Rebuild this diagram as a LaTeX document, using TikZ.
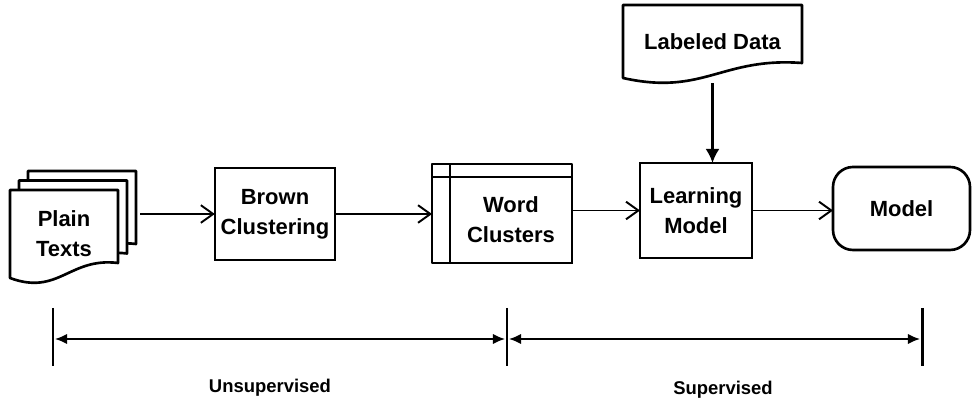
\documentclass[tikz,border=0pt]{standalone}
\usepackage{fontspec}
\setmainfont{Liberation Sans}
\usetikzlibrary{arrows.meta,positioning,calc,backgrounds}

% outline of a document page with a wavy lower edge
\newcommand{\docshape}[1]{%
  \draw[line, fill=white] (#1.south west) -- (#1.north west) -- (#1.north east)
    -- ($(#1.south east)+(0,0.3)$)
    .. controls ($(#1.south west)!0.55!(#1.south east)+(0,0.42)$)
    and ($(#1.south west)!0.45!(#1.south east)+(0,-0.36)$) .. cycle;}

\begin{document}
\begin{tikzpicture}[
    line/.style={line width=1.5pt, line join=round},
    box/.style={draw, line width=1.5pt, outer sep=0pt, minimum width=2.28cm, minimum height=1.84cm, align=center, font=\fontsize{12.5}{17}\selectfont\bfseries},
    page/.style={minimum width=2.16cm, minimum height=1.76cm, inner sep=0pt, outer sep=0pt, align=center, font=\fontsize{12.5}{17}\selectfont\bfseries},
    arr/.style={-{Straight Barb[length=7pt,width=10pt]}, line width=1.1pt},
    span/.style={{Latex[length=7pt,width=6pt]}-{Latex[length=7pt,width=6pt]}, line width=1.6pt, shorten <=1pt, shorten >=1pt},
    tag/.style={font=\fontsize{10.5}{13}\selectfont\bfseries}
]
\useasboundingbox (0,0) rectangle (19.48,-8.12);

% stack of plain texts
\node[page] (plainc) at (1.64,-4.30) {};
\node[page] (plainb) at (1.46,-4.49) {};
\node[page] (plain) at (1.28,-4.68) {Plain\\Texts};
\begin{scope}[on background layer]
\docshape{plainc}
\docshape{plainb}
\docshape{plain}
\end{scope}

\node[box] (brown) at (5.5,-4.28) {Brown\\Clustering};

% word clusters (inner area is the node)
\node[box, minimum width=2.44cm, minimum height=1.72cm] (words) at (10.22,-4.4) {Word\\Clusters};
\draw[line] ($(words.south west)+(-0.36,0)$) rectangle ($(words.north east)+(0,0.26)$);
\draw[line] ($(words.north west)+(-0.36,0)$) -- (words.north west) -- ++(0,0.26);

\node[box, minimum width=2.24cm, minimum height=1.9cm] (learning) at (13.92,-4.21) {Learning\\Model};

\node[page, minimum width=3.58cm, minimum height=1.46cm] (labeled) at (14.25,-0.83) {Labeled Data};
\begin{scope}[on background layer]
\docshape{labeled}
\end{scope}

\node[box, rounded corners=0.4cm, minimum width=2.74cm, minimum height=1.66cm] (model) at (18.03,-4.17) {Model};

\coordinate (plainout) at (2.8,-4.28);
\coordinate (wordsin) at (8.64,-4.28);

\draw[arr] (plainout) -- (brown);
\draw[arr] (brown) -- (wordsin);
\draw[arr] (words.east |- learning) -- (learning);
\draw[arr] (learning.east) -- (learning.east -| model.west);
\draw[arr, line width=1.4pt, -{Latex[length=8pt,width=8pt]}, shorten <=3pt] (labeled.south) -- (labeled.south |- learning.north);

% learning phases
\coordinate (ua) at (1.06,-6.78);
\coordinate (ub) at (10.14,-6.78);
\coordinate (uc) at (18.44,-6.78);
\foreach \c in {ua,ub,uc}
  \draw[line, line width=1.7pt] ($(\c)+(0,0.62)$) -- ($(\c)+(0,-0.54)$);
\draw[span] (ua) -- (ub);
\draw[span] (ub) -- (uc);

\node[tag] (unsup) at (5.4,-7.76) {Unsupervised};
\node[tag] (sup) at (14.46,-7.8) {Supervised};
\end{tikzpicture}
\end{document}
